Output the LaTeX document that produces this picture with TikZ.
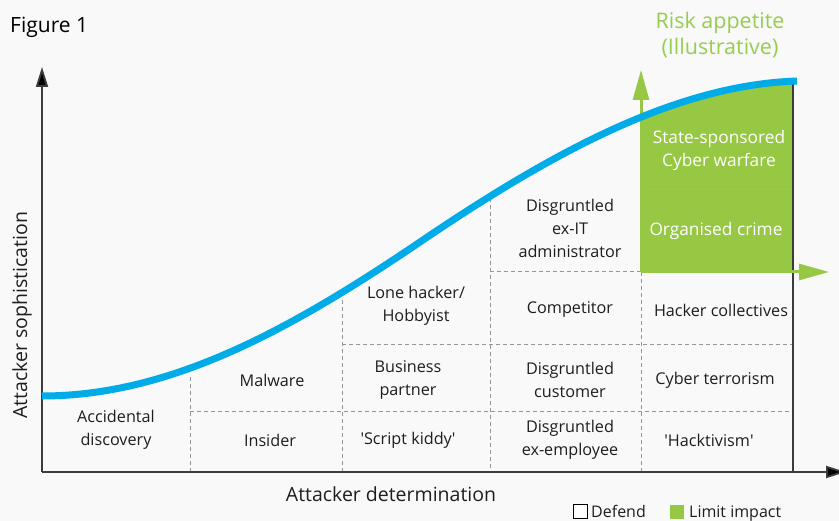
\documentclass[tikz,border=0pt]{standalone}
\usepackage{fontspec}
\setmainfont{Open Sans}
\newfontfamily\plainfont{Open Sans}
\usetikzlibrary{arrows.meta}
\definecolor{bgc}{RGB}{249,249,249}
\definecolor{skyblue}{RGB}{0,172,232}
\definecolor{limg}{RGB}{150,200,68}
\definecolor{riskg}{RGB}{150,205,80}
\definecolor{axisc}{RGB}{60,60,60}
\definecolor{dashc}{RGB}{150,150,150}
\definecolor{dashin}{RGB}{175,170,200}
\definecolor{txt}{RGB}{30,30,30}
\newcommand{\sq}{{\plainfont\symbol{39}}}
\begin{document}
\begin{tikzpicture}[x=1pt,y=-1pt,
  font=\fontsize{16.2}{23}\selectfont,
  cell/.style={align=center, text=txt, inner sep=0pt},
  wcell/.style={align=center, text=white, inner sep=0pt, font=\fontsize{17.3}{23}\selectfont},
  griddash/.style={draw=dashc, line width=1pt, dash pattern=on 4pt off 3pt},
  axisline/.style={draw=axisc, line width=1.8pt, -{Triangle[length=20pt,width=12pt,fill=black]}},
  greenarrow/.style={draw=limg, line width=3pt, -{Triangle[length=30pt,width=16pt]}},
  axislabel/.style={font=\fontsize{19.5}{24}\selectfont, text=txt, inner sep=0pt},
  legendbox/.style={minimum size=14pt, inner sep=0pt, line width=1pt},
  legendtext/.style={anchor=base west, inner sep=0pt, text=txt, font=\fontsize{16}{18}\selectfont}]
\fill[bgc] (0,0) rectangle (839,521);
\useasboundingbox (0,0) rectangle (839,521);

% green (limit impact) region under the curve
\begin{scope}
  \clip (641,0) rectangle (793,272);
  \fill[limg] (42,396) .. controls (170,396) and (290,330) .. (420,242)
     .. controls (560,147) and (680,85) .. (797,81) -- (797,272) -- (42,272) -- cycle;
\end{scope}

% grid
\draw[griddash] (190,377) -- (190,472);
\draw[griddash] (342,300) -- (342,472);
\draw[griddash] (490,198) -- (490,472);
\draw[griddash] (641,272) -- (641,472);
\draw[griddash] (190,412) -- (793,412);
\draw[griddash] (342,345) -- (793,345);
\draw[griddash] (490,272) -- (641,272);
\draw[draw=dashin, line width=1pt, dash pattern=on 4pt off 3pt] (641,190) -- (793,190);

% axes
\coordinate (O) at (42,472);
\coordinate (ytop) at (42,67);
\coordinate (xend) at (846,472);
\draw[axisline] (O) -- (ytop);
\draw[axisline] (O) -- (xend);
\coordinate (vtop) at (793,83);
\coordinate (vbot) at (793,472);
\draw[axisc, line width=1.8pt] (vtop) -- (vbot);

% green arrows
\coordinate (g0) at (641,272);
\coordinate (gup) at (641,70);
\coordinate (gright) at (829,272);
\draw[greenarrow] (g0) -- (gup);
\draw[greenarrow] (g0) -- (gright);

% curve
\draw[skyblue, line width=7pt] (42,396) .. controls (170,396) and (290,330) .. (420,242)
     .. controls (560,147) and (680,85) .. (797,81);

% titles
\node[anchor=west, inner sep=0pt, font=\fontsize{21}{24}\selectfont, text=black] (fig) at (10,27) {Figure 1};
\node[align=center, inner sep=0pt, text=riskg, font=\fontsize{21.5}{25.5}\selectfont] (risk) at (720,35) {Risk appetite\\(Illustrative)};
\node[axislabel, rotate=90] (ylab) at (22,315) {Attacker sophistication};
\node[axislabel] (xlab) at (391,494) {Attacker determination};

% cells
\node[cell] (c11) at (116,430) {Accidental\\discovery};
\node[cell] (c21) at (272,380) {Malware};
\node[cell] (c22) at (270,440) {Insider};
\node[cell] (c31) at (416,306) {Lone hacker/\\Hobbyist};
\node[cell] (c32) at (408,380) {Business\\partner};
\node[cell] (c33) at (408,440) {\sq Script kiddy\sq};
\node[cell] (c41) at (570,228) {Disgruntled\\ex-IT\\administrator};
\node[cell] (c42) at (570,310) {Competitor};
\node[cell] (c43) at (570,380) {Disgruntled\\customer};
\node[cell] (c44) at (570,440) {Disgruntled\\ex-employee};
\node[wcell] (c51) at (719,151) {State-sponsored\\Cyber warfare};
\node[wcell] (c52) at (716,231) {Organised crime};
\node[cell] (c53) at (721,310) {Hacker collectives};
\node[cell] (c54) at (715,380) {Cyber terrorism};
\node[cell] (c55) at (709,440) {\sq Hacktivism\sq};

% legend
\node[legendbox, draw=black, fill=white] (ldef) at (580,512) {};
\node[legendtext] (ldeft) at (591,518) {Defend};
\node[legendbox, fill=limg] (llim) at (677,512) {};
\node[legendtext] (llimt) at (689,518) {Limit impact};
\end{tikzpicture}
\end{document}
